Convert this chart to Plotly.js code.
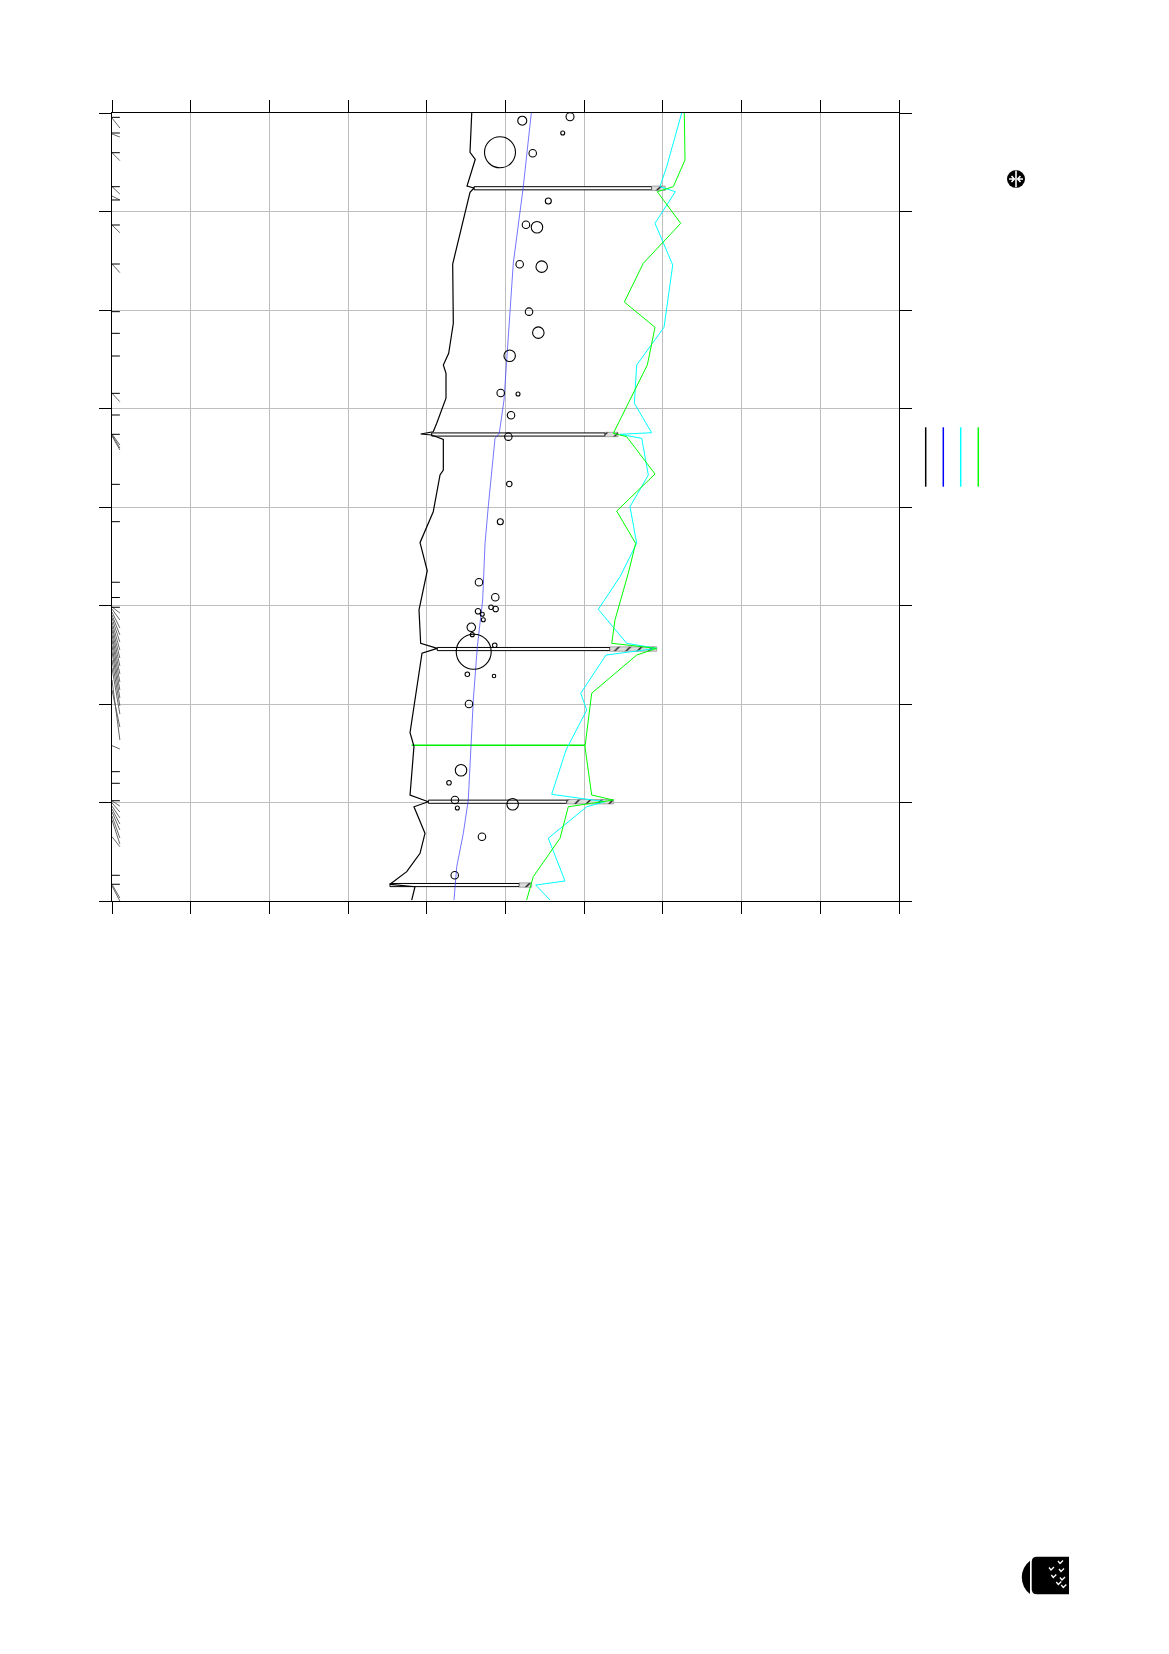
<!DOCTYPE html>
<html>
<head>
<meta charset="utf-8">
<script src="https://cdn.plot.ly/plotly-3.0.1.min.js"></script>
<style>
  html, body { margin: 0; padding: 0; background: #ffffff; }
  #wrap { position: relative; width: 1169px; height: 1654px; }
  #chart { position: absolute; left: 0; top: 0; width: 1169px; height: 1654px; }
  .deco { position: absolute; }
</style>
</head>
<body>
<div id="wrap">
  <div id="chart"></div>
  <svg class="deco" style="left:1006px;top:169px" width="20" height="20" viewBox="0 0 20 20">
    <circle cx="10" cy="10" r="9" fill="#000"/>
    <line x1="10" y1="1.5" x2="10" y2="18.5" stroke="#fff" stroke-width="1.6"/>
    <path d="M3 10 L8 10 M5.5 7 L8.3 10 L5.5 13" stroke="#fff" stroke-width="1.6" fill="none"/>
    <path d="M17 10 L12 10 M14.5 7 L11.7 10 L14.5 13" stroke="#fff" stroke-width="1.6" fill="none"/>
  </svg>
  <svg class="deco" style="left:1021px;top:1556px" width="50" height="40" viewBox="0 0 50 40">
    <path d="M9 4.7 A21 21 0 0 0 9 38 Z" fill="#000"/>
    <path d="M16 0.7 L48 0.7 L48 38.3 L16 38.3 Q10.7 38.3 10.7 33 L10.7 6 Q10.7 0.7 16 0.7 Z" fill="#000"/>
    <g stroke="#fff" stroke-width="1.3" fill="none">
      <path d="M37 5 L39 7.5 L42 4.5"/>
      <path d="M28 11.5 L30 14 L33 11"/>
      <path d="M38 13 L40 15.5 L43 12.5"/>
      <path d="M30.3 19 L32.3 21.5 L35.3 18.5"/>
      <path d="M39 21.5 L41 24 L44 21"/>
      <path d="M35.3 26 L37.3 28.5 L40.3 25.5"/>
      <path d="M40.3 29 L42.3 31.5 L45.3 28.5"/>
    </g>
  </svg>
</div>
<script>
// ---------------- data ----------------
const blackX = [4.571,4.549,4.616,4.511,4.600,4.549,4.329,4.337,4.278,4.210,4.244,4.244,4.126,4.082,3.922,4.062,4.210,4.210,4.168,4.082,3.914,4.006,3.905,3.901,3.922,4.133,3.939,3.787,3.837,3.787,4.019,3.837,3.977,3.914,3.745,3.532,3.850,3.808];
const blackY = [0.000,0.399,0.470,0.741,0.761,0.805,1.533,2.135,2.440,2.558,2.643,2.896,3.150,3.236,3.259,3.269,3.313,3.624,3.675,4.048,4.362,4.647,5.028,5.046,5.384,5.435,5.485,6.291,6.429,6.924,6.992,7.043,7.313,7.516,7.702,7.831,7.855,7.990];

const blueX = [5.328,5.226,5.099,5.015,4.981,4.921,4.867,4.781,4.740,4.710,4.642,4.591,4.527,4.464,4.380,4.346];
const blueY = [0.000,0.748,1.526,2.440,2.914,3.252,3.303,3.997,4.369,4.944,5.418,5.959,6.975,7.313,7.652,7.990];

const greenX = [7.272,7.281,7.132,6.929,7.226,6.751,6.510,6.900,6.802,6.582,6.370,6.540,6.900,6.413,6.654,6.560,6.391,6.350,6.921,6.667,6.095,6.010,6.095,6.370,5.798,5.693,5.353,5.269];
const greenY = [0.000,0.477,0.748,0.799,1.120,1.526,1.919,2.176,2.558,2.914,3.252,3.286,3.665,4.041,4.369,4.673,5.147,5.384,5.435,5.503,5.891,6.434,6.924,6.975,7.043,7.363,7.753,7.990];

const cyanX = [7.239,7.048,6.963,7.158,6.900,7.125,7.014,6.667,6.637,6.764,6.857,6.455,6.731,6.815,6.582,6.667,6.455,6.179,6.540,6.921,6.277,5.956,6.032,5.769,5.587,6.264,6.032,5.544,5.756,5.384,5.565];
const cyanY = [0.000,0.545,0.748,0.799,1.120,1.543,2.176,2.558,2.947,3.117,3.246,3.262,3.303,3.675,3.997,4.369,4.708,5.039,5.384,5.435,5.503,5.891,6.061,6.467,6.917,6.992,7.043,7.363,7.797,7.838,7.990];

const circX = [5.213,5.820,5.727,4.930,5.346,5.544,5.260,5.400,5.180,5.460,5.299,5.417,5.053,4.939,5.159,5.070,5.036,5.048,4.934,4.663,4.870,4.816,4.875,4.651,4.705,4.718,4.565,4.578,4.596,4.863,4.515,4.854,4.536,4.435,4.282,4.358,4.388,5.091,4.701,4.355];
const circY = [0.078,0.038,0.203,0.399,0.409,0.893,1.134,1.160,1.536,1.560,2.017,2.230,2.464,2.843,2.853,3.069,3.286,3.766,4.149,4.764,4.916,5.018,5.036,5.059,5.089,5.144,5.221,5.296,5.469,5.404,5.698,5.716,6.000,6.673,6.799,6.975,7.056,7.018,7.347,7.739];
const circSize = [9,8,4,31,7.5,6,7.5,11.5,7.5,11.5,7.5,11.5,11.5,7.5,4,7.5,7.5,5.5,6,7.5,7.5,4.5,5.5,5.5,4,4,8.5,4,35,4.5,4.5,3.5,7.5,11.5,4.5,7.5,4,11.5,7.5,7.5];

const barY       = [0.764,3.264,5.442,6.992,7.838];
const barStart   = [4.600,4.062,4.133,4.019,3.532];
const hatchStart = [6.858,6.264,6.328,5.778,5.175];
const hatchEnd   = [7.030,6.430,6.921,6.370,5.333];

const freezeY  = [6.419];
const freezeX0 = [3.808];
const freezeX1 = [6.010];

const obsTickY = [0.044,0.203,0.403,0.748,0.883,1.137,1.533,2.017,2.237,2.467,2.846,3.066,3.262,3.770,4.149,4.764,4.919,5.018,6.687,6.805,6.982,7.739,7.830];

const slantY0 = [0.051,0.213,0.403,0.748,0.843,1.137,1.533,2.846,3.259,3.269,3.279,5.015,5.036,5.066,5.096,5.127,5.168,5.208,5.249,5.299,5.350,5.411,5.472,5.553,5.635,5.756,5.858,6.423,6.985,7.005,7.036,7.066,7.096,7.137,7.178,7.347,7.830,7.848];
const slantY1 = [0.152,0.244,0.484,0.822,0.883,1.215,1.621,2.931,3.371,3.401,3.421,5.076,5.147,5.228,5.299,5.371,5.452,5.533,5.614,5.695,5.777,5.858,5.939,6.020,6.102,6.365,6.234,6.457,7.036,7.096,7.157,7.218,7.279,7.360,7.421,7.449,7.970,8.000];

const seriesColors = ['#000000', '#0000ff', '#00ffff', '#00ff00'];

// ---------------- build traces ----------------
function segs(x0s, y0s, x1s, y1s) {
  const xs = [], ys = [];
  for (let i = 0; i < y0s.length; i++) {
    xs.push(x0s[i], x1s[i], null);
    ys.push(y0s[i], y1s[i], null);
  }
  return {x: xs, y: ys};
}
const tickSeg = segs(obsTickY.map(() => 0), obsTickY, obsTickY.map(() => 0.1), obsTickY);
const slantSeg = segs(slantY0.map(() => 0), slantY0, slantY0.map(() => 0.1), slantY1);
const freezeSeg = segs(freezeX0, freezeY, freezeX1, freezeY);

const traces = [
  {type: 'scatter', mode: 'lines', x: freezeSeg.x, y: freezeSeg.y,
   line: {color: '#00ee00', width: 1.3}, hoverinfo: 'skip'},
  {type: 'bar', orientation: 'h', y: barY, base: barStart,
   x: barStart.map((b, i) => hatchStart[i] - b), width: 0.032,
   marker: {color: '#ffffff', line: {color: '#000000', width: 1}}},
  {type: 'bar', orientation: 'h', y: barY, base: hatchStart,
   x: hatchStart.map((b, i) => hatchEnd[i] - b), width: 0.045,
   marker: {color: '#dcdcdc', line: {color: '#666666', width: 0.5},
            pattern: {shape: '/', fgcolor: '#000000', bgcolor: '#dcdcdc', size: 8, solidity: 0.15}}},
  {type: 'scatter', mode: 'lines', x: cyanX, y: cyanY, line: {color: seriesColors[2], width: 1}},
  {type: 'scatter', mode: 'lines', x: greenX, y: greenY, line: {color: seriesColors[3], width: 1}},
  {type: 'scatter', mode: 'lines', x: blueX, y: blueY, line: {color: '#3a3aff', width: 0.7}},
  {type: 'scatter', mode: 'lines', x: blackX, y: blackY, line: {color: seriesColors[0], width: 1.2}},
  {type: 'scatter', mode: 'markers', x: circX, y: circY,
   marker: {symbol: 'circle-open', size: circSize, color: '#000000', opacity: 1, line: {width: 1.1, color: '#000000'}}},
  {type: 'scatter', mode: 'lines', x: slantSeg.x, y: slantSeg.y,
   line: {color: '#555555', width: 0.9}, cliponaxis: false},
  {type: 'scatter', mode: 'lines', x: tickSeg.x, y: tickSeg.y,
   line: {color: '#000000', width: 1}, cliponaxis: false}
];

// legend: vertical coloured strokes to the right of the plot (pixel -> paper)
const L = 112, R = 899, T = 113, B = 901;
const legPx = [925.7, 943.3, 960.7, 978.3];
const shapes = legPx.map((px, i) => ({
  type: 'line', xref: 'paper', yref: 'paper',
  x0: (px - L) / (R - L), x1: (px - L) / (R - L),
  y0: (B - 427.3) / (B - T), y1: (B - 486.7) / (B - T),
  line: {color: seriesColors[i], width: 1.5}
}));

const axisCommon = {
  dtick: 1, tick0: 0, showgrid: true, gridcolor: '#bebebe', gridwidth: 1,
  zeroline: false, showline: true, linecolor: '#000000', linewidth: 1,
  mirror: 'ticks', ticks: 'outside', ticklen: 12, tickwidth: 1, tickcolor: '#000000',
  showticklabels: false, fixedrange: true
};

const layout = {
  width: 1169, height: 1654,
  margin: {l: L, r: 1169 - R, t: T, b: 1654 - B, pad: 0},
  paper_bgcolor: '#ffffff', plot_bgcolor: '#ffffff',
  showlegend: false, barmode: 'overlay', bargap: 0,
  xaxis: Object.assign({range: [0, 10]}, axisCommon),
  yaxis: Object.assign({range: [8, 0]}, axisCommon),
  shapes: shapes,
  font: {family: 'DejaVu Sans'}
};

Plotly.newPlot('chart', traces, layout, {staticPlot: true, displayModeBar: false});
</script>
</body>
</html>
